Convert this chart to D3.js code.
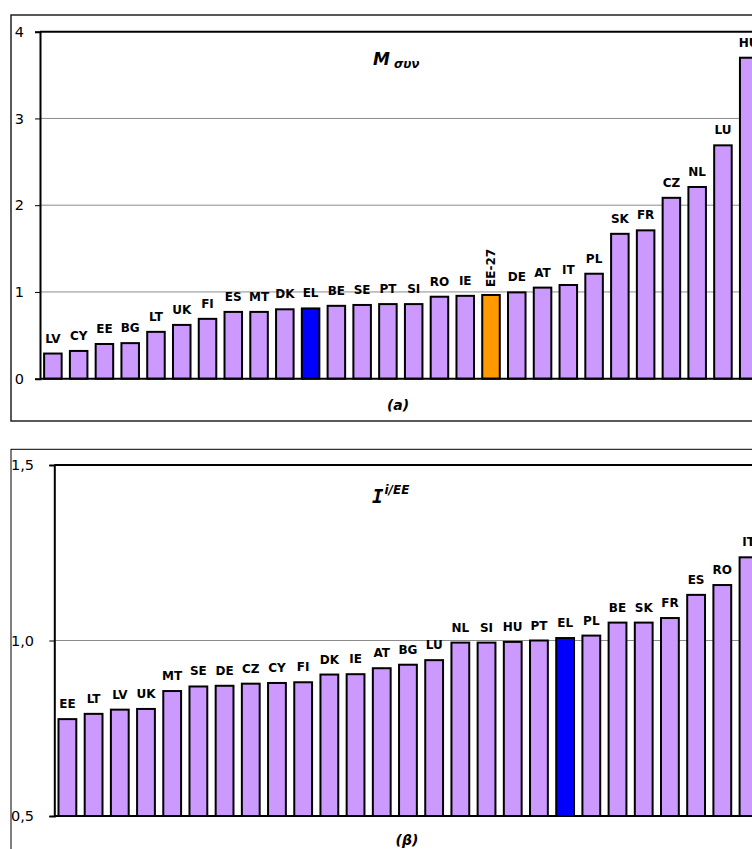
<!DOCTYPE html>
<html>
<head>
<meta charset="utf-8">
<script src="https://cdn.jsdelivr.net/npm/d3@7"></script>
<style>
  html, body { margin: 0; padding: 0; background: #fff; overflow: hidden; }
  svg { display: block; }
  text { font-family: "DejaVu Sans", Verdana, sans-serif; }
</style>
</head>
<body>
<script>
// Panel (a): M συν by country (sorted ascending)
const topCountries = ["LV","CY","EE","BG","LT","UK","FI","ES","MT","DK","EL","BE","SE","PT","SI","RO","IE","EE-27","DE","AT","IT","PL","SK","FR","CZ","NL","LU","HU"];
const topValues = [0.29,0.32,0.40,0.41,0.54,0.62,0.69,0.77,0.77,0.80,0.81,0.84,0.85,0.86,0.86,0.945,0.955,0.965,0.995,1.05,1.08,1.21,1.67,1.71,2.085,2.21,2.69,3.70];
const topTicks = [0, 1, 2, 3, 4];

// Panel (β): I i/EE by country (sorted ascending)
const bottomCountries = ["EE","LT","LV","UK","MT","SE","DE","CZ","CY","FI","DK","IE","AT","BG","LU","NL","SI","HU","PT","EL","PL","BE","SK","FR","ES","RO","IT"];
const bottomValues = [0.776,0.791,0.803,0.805,0.856,0.869,0.871,0.877,0.879,0.881,0.903,0.904,0.921,0.931,0.944,0.994,0.994,0.996,1.0,1.007,1.014,1.051,1.051,1.064,1.13,1.158,1.237];
const bottomTicks = [0.5, 1.0, 1.5];
const bottomTickLabels = ["0,5", "1,0", "1,5"];

const colorDefault = "#CC99FF";
const colorGreece = "#0000FF";
const colorEU = "#FF9900";
const barColor = c => c === "EL" ? colorGreece : (c === "EE-27" ? colorEU : colorDefault);

const svg = d3.select("body").append("svg")
  .attr("width", 800).attr("height", 849);

function panel(cfg) {
  const g = svg.append("g");
  // chart frame
  g.append("rect")
    .attr("x", cfg.box[0]).attr("y", cfg.box[1])
    .attr("width", cfg.box[2]).attr("height", cfg.box[3])
    .attr("fill", "#fff").attr("stroke", cfg.boxStroke).attr("stroke-width", cfg.boxWidth);

  const x = d3.scaleBand().domain(cfg.cats).range([cfg.left, cfg.right])
    .paddingInner(0.32).paddingOuter(0.16);
  const y = d3.scaleLinear().domain(cfg.domain).range([cfg.bottom, cfg.top]);

  // gridlines
  g.selectAll("line.grid").data(cfg.ticks.slice(1, -1)).join("line")
    .attr("class", "grid")
    .attr("x1", cfg.left).attr("x2", cfg.right)
    .attr("y1", d => y(d)).attr("y2", d => y(d))
    .attr("stroke", "#8c8c8c").attr("stroke-width", 1);

  // bars
  g.selectAll("rect.bar").data(cfg.cats).join("rect")
    .attr("class", "bar")
    .attr("x", d => x(d)).attr("width", x.bandwidth())
    .attr("y", (d, i) => y(cfg.vals[i]))
    .attr("height", (d, i) => y(cfg.domain[0]) - y(cfg.vals[i]))
    .attr("fill", d => barColor(d))
    .attr("stroke", "#000").attr("stroke-width", 2);

  // country labels above bars
  cfg.cats.forEach((c, i) => {
    const cx = x(c) + x.bandwidth() / 2;
    const ty = y(cfg.vals[i]);
    if (c === "EE-27") {
      g.append("text")
        .attr("transform", `translate(${cx + 4},${ty - 8}) rotate(-90)`)
        .attr("text-anchor", "start")
        .attr("font-size", 12).attr("font-weight", "bold")
        .text(c);
    } else {
      g.append("text")
        .attr("x", cx).attr("y", ty - 11)
        .attr("text-anchor", "middle")
        .attr("font-size", 12).attr("font-weight", "bold")
        .text(c);
    }
  });

  // plot area border (top) and axis
  g.append("line").attr("x1", cfg.left).attr("x2", cfg.right + 40)
    .attr("y1", cfg.top).attr("y2", cfg.top)
    .attr("stroke", "#000").attr("stroke-width", 2);

  const axis = d3.axisLeft(y).tickValues(cfg.ticks).tickSize(5)
    .tickFormat((d, i) => cfg.tickLabels[i]);
  const ag = g.append("g").attr("transform", `translate(${cfg.left},0)`).call(axis);
  ag.select(".domain").attr("stroke", "#000").attr("stroke-width", 2);
  ag.selectAll(".tick line").attr("stroke", "#000").attr("stroke-width", 1);
  ag.selectAll(".tick text").remove();
  cfg.ticks.forEach((t, i) => {
    g.append("text")
      .attr("x", cfg.labelRight).attr("y", y(t)).attr("dy", "0.36em")
      .attr("text-anchor", "end").attr("font-size", 14.5).attr("fill", "#000")
      .text(cfg.tickLabels[i]);
  });

  // baseline
  g.append("line").attr("x1", cfg.left).attr("x2", cfg.right + 40)
    .attr("y1", cfg.bottom).attr("y2", cfg.bottom)
    .attr("stroke", "#000").attr("stroke-width", 2);

  // panel caption
  g.append("text")
    .attr("x", cfg.caption[0]).attr("y", cfg.caption[1])
    .attr("text-anchor", "middle").attr("font-size", 14)
    .attr("font-weight", "bold").attr("font-style", "italic")
    .text(cfg.caption[2]);
  return g;
}

const gTop = panel({
  box: [11, 15, 820, 406], boxStroke: "#222", boxWidth: 1.5,
  cats: topCountries, vals: topValues, domain: [0, 4],
  ticks: topTicks, tickLabels: topTicks.map(String),
  left: 40, right: 761.6, top: 31.7, bottom: 378.7, labelRight: 24,
  caption: [398, 410, "(a)"]
});

const gBottom = panel({
  box: [11, 449.3, 820, 420], boxStroke: "#000", boxWidth: 1,
  cats: bottomCountries, vals: bottomValues, domain: [0.5, 1.5],
  ticks: bottomTicks, tickLabels: bottomTickLabels,
  left: 54.3, right: 761.6, top: 465, bottom: 816, labelRight: 34,
  caption: [407, 845, "(β)"]
});

// series titles
const t1 = gTop.append("text").attr("x", 373).attr("y", 65)
  .attr("font-weight", "bold").attr("font-style", "italic");
t1.append("tspan").attr("font-size", 17).text("M");
t1.append("tspan").attr("font-size", 12).attr("dx", 4).attr("dy", 3).text("συν");

const t2 = gBottom.append("text").attr("x", 372).attr("y", 503)
  .attr("font-weight", "bold").attr("font-style", "italic");
t2.append("tspan").attr("font-size", 19)
  .style("font-family", "'DejaVu Sans Mono', monospace").text("I");
t2.append("tspan").attr("font-size", 12).attr("dx", 1).attr("dy", -9).text("i/EE");
</script>
</body>
</html>
